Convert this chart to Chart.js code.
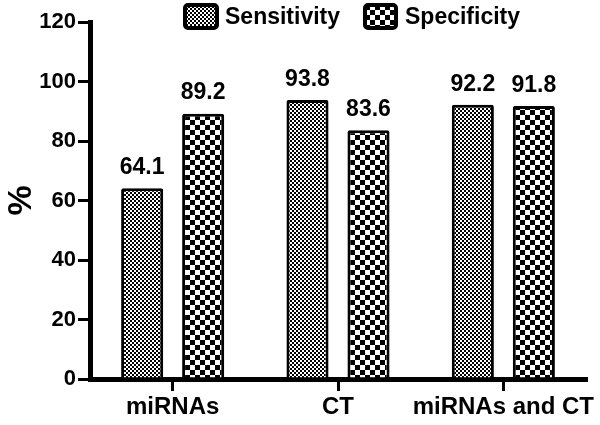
<!DOCTYPE html>
<html lang="en">
<head>
    <meta charset="UTF-8">
    <title>Sensitivity and Specificity</title>
    <script src="https://cdn.jsdelivr.net/npm/chart.js"></script>
    <style>
        body { margin: 0; background: #fff; }
        #wrap { width: 600px; height: 425px; }
    </style>
</head>
<body>
    <div id="wrap"><canvas id="chart"></canvas></div>

    <script>
        const categories = ['miRNAs', 'CT', 'miRNAs and CT'];
        const sensitivity = [64.1, 93.8, 92.2];
        const specificity = [89.2, 83.6, 91.8];
        const seriesNames = ['Sensitivity', 'Specificity'];

        const FONT = 'Arial, "Liberation Sans", sans-serif';

        // fine dotted fill for sensitivity
        function finePattern() {
            const c = document.createElement('canvas');
            c.width = 4; c.height = 4;
            const g = c.getContext('2d');
            g.fillStyle = '#000';
            g.fillRect(0, 0, 4, 4);
            g.fillStyle = '#fff';
            g.fillRect(0, 0, 2, 2);
            g.fillRect(2, 2, 2, 2);
            return g.createPattern(c, 'repeat');
        }

        // coarse checkerboard for specificity
        function checkerPattern() {
            const c = document.createElement('canvas');
            c.width = 10; c.height = 10;
            const g = c.getContext('2d');
            g.fillStyle = '#fff';
            g.fillRect(0, 0, 10, 10);
            g.fillStyle = '#000';
            g.fillRect(0, 0, 5, 5);
            g.fillRect(5, 5, 5, 5);
            return g.createPattern(c, 'repeat');
        }

        const fills = [finePattern(), checkerPattern()];

        const valueLabels = {
            id: 'valueLabels',
            afterDatasetsDraw(chart) {
                const ctx = chart.ctx;
                ctx.save();
                ctx.font = 'bold 23px ' + FONT;
                ctx.fillStyle = '#000';
                ctx.textAlign = 'center';
                ctx.textBaseline = 'bottom';
                chart.data.datasets.forEach((ds, i) => {
                    chart.getDatasetMeta(i).data.forEach((bar, j) => {
                        ctx.fillText(ds.data[j].toFixed(1), bar.x, bar.y - 9);
                    });
                });
                ctx.restore();
            }
        };

        // legend sits inside the plot area at the top, so draw it by hand
        const topLegend = {
            id: 'topLegend',
            afterDraw(chart) {
                const ctx = chart.ctx;
                const items = [
                    { box: [185, 5, 32, 23], textX: 225 },
                    { box: [365, 5, 31, 23], textX: 405 }
                ];
                ctx.save();
                items.forEach((it, i) => {
                    const [x, y, w, h] = it.box;
                    ctx.beginPath();
                    ctx.roundRect(x, y, w, h, 3);
                    ctx.fillStyle = fills[i];
                    ctx.fill();
                    ctx.lineWidth = 4;
                    ctx.strokeStyle = '#000';
                    ctx.stroke();
                    ctx.font = 'bold 23px ' + FONT;
                    ctx.fillStyle = '#000';
                    ctx.textAlign = 'left';
                    ctx.textBaseline = 'middle';
                    ctx.fillText(seriesNames[i], it.textX, 18);
                });
                ctx.restore();
            }
        };

        new Chart(document.getElementById('chart'), {
            type: 'bar',
            data: {
                labels: categories,
                datasets: [
                    {
                        label: seriesNames[0],
                        data: sensitivity,
                        backgroundColor: fills[0],
                        borderColor: '#000',
                        borderWidth: 3,
                        borderRadius: 2,
                        borderSkipped: 'start'
                    },
                    {
                        label: seriesNames[1],
                        data: specificity,
                        backgroundColor: fills[1],
                        borderColor: '#000',
                        borderWidth: 3,
                        borderRadius: 2,
                        borderSkipped: 'start'
                    }
                ]
            },
            options: {
                responsive: true,
                maintainAspectRatio: false,
                animation: false,
                categoryPercentage: 0.738,
                barPercentage: 0.69,
                layout: { padding: { top: 22, right: 14, left: 0, bottom: 0 } },
                plugins: {
                    legend: { display: false },
                    tooltip: { enabled: false }
                },
                scales: {
                    x: {
                        offset: true,
                        grid: {
                            display: true,
                            offset: false,
                            drawOnChartArea: false,
                            drawTicks: true,
                            tickLength: 12,
                            lineWidth: 3,
                            color: '#000'
                        },
                        border: { display: true, color: '#000', width: 5 },
                        ticks: {
                            color: '#000',
                            padding: 2,
                            maxRotation: 0,
                            autoSkip: false,
                            font: { family: FONT, size: 24, weight: 'bold' }
                        },
                        afterFit(scale) { scale.height = 46; }
                    },
                    y: {
                        min: 0,
                        max: 120,
                        ticks: {
                            stepSize: 20,
                            color: '#000',
                            padding: 2,
                            font: { family: FONT, size: 22, weight: 'bold' }
                        },
                        grid: {
                            display: true,
                            drawOnChartArea: false,
                            drawTicks: true,
                            tickLength: 12,
                            lineWidth: 3,
                            color: '#000'
                        },
                        border: { display: true, color: '#000', width: 5 },
                        title: {
                            display: true,
                            text: '%',
                            color: '#000',
                            padding: 1,
                            font: { family: FONT, size: 34, weight: 'bold' }
                        },
                        afterFit(scale) { scale.width = 90; }
                    }
                }
            },
            plugins: [valueLabels, topLegend]
        });
    </script>
</body>
</html>
